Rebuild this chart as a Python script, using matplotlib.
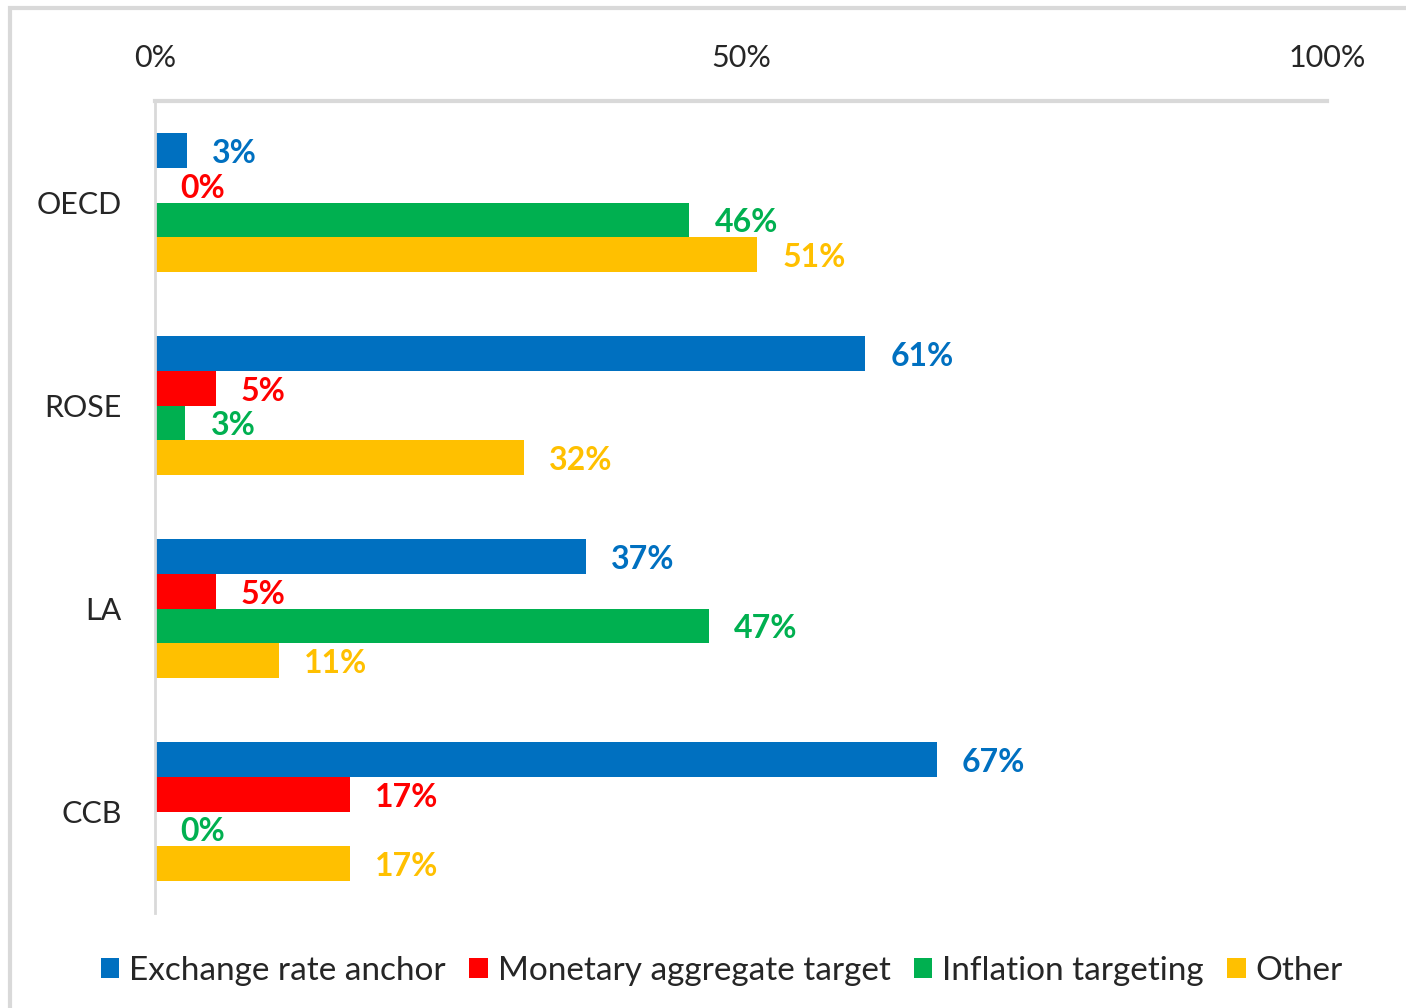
import matplotlib
matplotlib.use("Agg")
import matplotlib.pyplot as plt
from matplotlib.patches import Rectangle, Patch
import numpy as np

plt.rcParams['font.family'] = ['Lato', 'DejaVu Sans']

categories = ["OECD", "ROSE", "LA", "CCB"]
series_names = ["Exchange rate anchor", "Monetary aggregate target",
                "Inflation targeting", "Other"]
exchange_rate = [2.7, 60.6, 36.8, 66.7]
monetary_agg = [0.0, 5.2, 5.2, 16.6]
inflation_tgt = [45.6, 2.6, 47.3, 0.0]
other = [51.4, 31.5, 10.6, 16.6]
colors = ["#0070C0", "#FF0000", "#00B050", "#FFC000"]
x_ticks = [0, 50, 100]
x_tick_labels = ["0%", "50%", "100%"]

series = [exchange_rate, monetary_agg, inflation_tgt, other]

fig = plt.figure(figsize=(14.06, 10.08), dpi=100)
ax = fig.add_axes([155/1406, 1-913/1008, (1327-155)/1406, (913-101)/1008])

# chart border (light gray)
fig.add_artist(Rectangle((10/1406, -0.05), 1.2, (1008-8)/1008 + 0.05,
                         transform=fig.transFigure, fill=False,
                         edgecolor="#D9D9D9", linewidth=3))

y = np.arange(len(categories))
h = 0.17
offsets = [-1.5*h, -0.5*h, 0.5*h, 1.5*h]
for vals, col, off, name in zip(series, colors, offsets, series_names):
    bars = ax.barh(y + off, vals, height=h, color=col, label=name)
    for b, v in zip(bars, vals):
        ax.annotate(f"{v:.0f}%", xy=(v, b.get_y() + b.get_height()/2),
                    xytext=(18, -2), textcoords="offset points",
                    ha="left", va="center", color=col,
                    fontsize=23, fontweight="bold")

ax.set_xlim(0, 100)
ax.set_ylim(3.5, -0.5)
ax.xaxis.tick_top()
ax.set_xticks(x_ticks)
ax.set_xticklabels(x_tick_labels, fontsize=22, color="#262626")
ax.tick_params(axis="x", length=0, pad=21)
ax.set_yticks(y)
ax.set_yticklabels(categories, fontsize=22, color="#262626")
ax.tick_params(axis="y", length=0, pad=24)
for s in ["right", "bottom"]:
    ax.spines[s].set_visible(False)
ax.spines["top"].set_color("#D9D9D9")
ax.spines["top"].set_linewidth(3)
ax.spines["left"].set_color("#D9D9D9")
ax.spines["left"].set_linewidth(2)

handles = [Patch(facecolor=c) for c in colors]
fig.legend(handles, series_names, loc="center", bbox_to_anchor=(722/1406, 1-971/1008),
           ncol=4, frameon=False, fontsize=24, handlelength=0.55, handleheight=0.55,
           handletextpad=0.3, columnspacing=0.7, labelcolor="#262626")

fig.savefig("out.png", dpi=100)
